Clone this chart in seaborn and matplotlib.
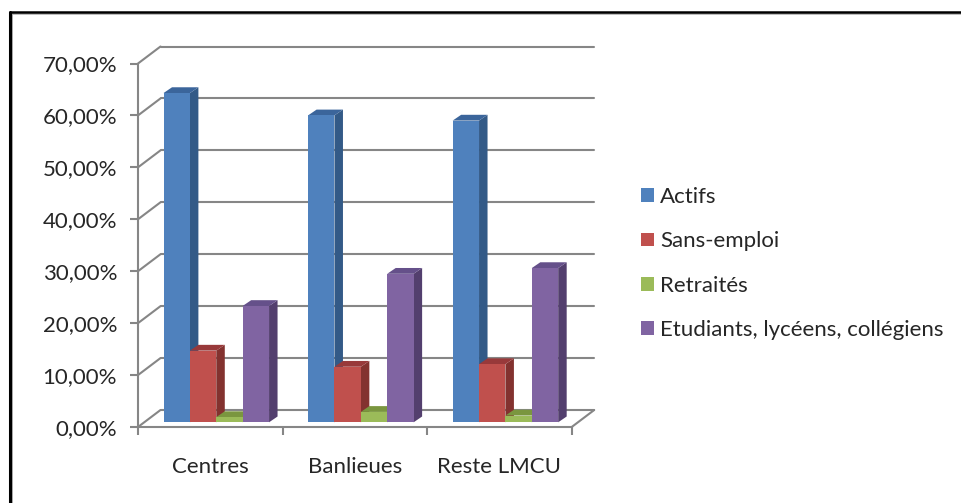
import matplotlib
matplotlib.use('Agg')
import matplotlib.pyplot as plt
import pandas as pd
import seaborn as sns
from matplotlib.lines import Line2D
from matplotlib.patches import Polygon
from matplotlib.transforms import Affine2D

categories = ['Centres', 'Banlieues', 'Reste LMCU']
groups = ['Actifs', 'Sans-emploi', 'Retraités', 'Etudiants, lycéens, collégiens']
actifs = [63.4, 59.1, 58.1]
sans_emploi = [13.8, 10.7, 11.2]
retraites = [1.0, 2.0, 1.3]
etudiants = [22.4, 28.6, 29.7]
y_ticks = [0, 10, 20, 30, 40, 50, 60, 70]
y_labels = ['0,00%', '10,00%', '20,00%', '30,00%', '40,00%', '50,00%', '60,00%', '70,00%']

colors = ['#4F81BD', '#C0504D', '#9BBB59', '#8064A2']
side_colors = ['#335A87', '#83322F', '#6F8A3B', '#533F6E']
top_colors = ['#3B659B', '#98393A', '#7A963F', '#65508A']

W, H = 961, 503
AX_L, AX_R, AX_T, AX_B = 138, 571.7, 63.5, 427
WALL_DX, WALL_DY = 22.5, 17      # depth of the floor/walls, pixels
BAR_DX, BAR_DY = 6, 4.7          # bars stand a bit behind the front edge
SIDE_DX, TOP_DY = 8.5, 5.8       # depth of one bar
GRID = '#868686'
FONT = 'Lato'
FS = 16

df = pd.DataFrame({'categorie': categories * 4,
                   'groupe': [g for g in groups for _ in categories],
                   'valeur': actifs + sans_emploi + retraites + etudiants})

sns.set_theme(style='white')
plt.rcParams['font.family'] = [FONT, 'DejaVu Sans']

fig = plt.figure(figsize=(W / 100, H / 100), dpi=100, facecolor='white')
ax = fig.add_axes([AX_L / W, 1 - AX_B / H, (AX_R - AX_L) / W, (AX_B - AX_T) / H])
sns.barplot(data=df, x='categorie', y='valeur', hue='groupe', hue_order=groups,
            palette=colors, saturation=1, width=0.73, gap=0, linewidth=0, ax=ax, zorder=3)
ax.set_xlim(-0.5, 2.5)
ax.set_ylim(0, 70)

# pixel sizes into data units
px_x = 3 / (AX_R - AX_L)
px_y = 70 / (AX_B - AX_T)

# 3d look: shift the fronts backwards and add the side and top faces
shift = ax.transData + Affine2D().translate(BAR_DX, BAR_DY)
for container, side, top in zip(ax.containers, side_colors, top_colors):
    for bar in container:
        x0, x1 = bar.get_x(), bar.get_x() + bar.get_width()
        h = bar.get_height()
        dx, dy = SIDE_DX * px_x, TOP_DY * px_y
        bar.set_transform(shift)
        ax.add_patch(Polygon([(x1, 0), (x1 + dx, dy), (x1 + dx, h + dy), (x1, h)],
                             facecolor=side, lw=0, transform=shift, zorder=2.5, clip_on=False))
        ax.add_patch(Polygon([(x0, h), (x0 + dx, h + dy), (x1 + dx, h + dy), (x1, h)],
                             facecolor=top, lw=0, transform=shift, zorder=2.7, clip_on=False))
        bar.set_clip_on(False)

# walls
back = ax.transData + Affine2D().translate(WALL_DX, WALL_DY)
for t in y_ticks:
    ax.plot([-0.5, 2.5], [t, t], color=GRID, lw=1.5, transform=back, zorder=1, clip_on=False)
    ax.plot([-0.5, -0.5 + WALL_DX * px_x], [t, t + WALL_DY * px_y], color=GRID, lw=1.5,
            zorder=1, clip_on=False)
ax.plot([2.5, 2.5 + WALL_DX * px_x], [0, WALL_DY * px_y], color=GRID, lw=1.5, zorder=1, clip_on=False)

sns.despine(ax=ax, top=True, right=True)
for name in ['left', 'bottom']:
    ax.spines[name].set_color(GRID)
    ax.spines[name].set_linewidth(1.5)

ax.set_yticks(y_ticks)
ax.set_yticklabels(y_labels)
ax.set_xticks([-0.5, 0.5, 1.5, 2.5], minor=True)
ax.set_xticks([0, 1, 2])
ax.set_xticklabels(categories)
ax.tick_params(axis='y', which='major', left=True, length=6, width=1.5, color=GRID,
               labelsize=FS, labelcolor='#262626', pad=9)
ax.tick_params(axis='x', which='minor', bottom=True, length=6, width=1.5, color=GRID)
ax.tick_params(axis='x', which='major', bottom=False, labelsize=FS, labelcolor='#262626', pad=15.5)
ax.set_xlabel('')
ax.set_ylabel('')

handles = ax.containers
ax.legend(handles, groups, loc='center left', bbox_to_anchor=(641 / W, 1 - 263.5 / H),
          bbox_transform=fig.transFigure, frameon=False, fontsize=FS, labelcolor='#262626',
          handlelength=0.58, handleheight=0.58, handletextpad=0.27, labelspacing=1.09,
          borderpad=0, borderaxespad=0)

# picture frame
px_fx, px_fy = 1 / W, 1 / H
fig.add_artist(Line2D([12 * px_fx, 12 * px_fx], [0, 1 - 14.3 * px_fy], color='#AAAAAA', lw=1.4))
fig.add_artist(Line2D([12 * px_fx, 1], [1 - 14.3 * px_fy, 1 - 14.3 * px_fy], color='#AAAAAA', lw=1.1))
fig.add_artist(Line2D([9.5 * px_fx, 9.5 * px_fx], [0, 1 - 12.2 * px_fy], color='black', lw=2.2))
fig.add_artist(Line2D([9.5 * px_fx, 1], [1 - 12.2 * px_fy, 1 - 12.2 * px_fy], color='black', lw=1.8))

fig.savefig('out.png', dpi=100, facecolor='white')
